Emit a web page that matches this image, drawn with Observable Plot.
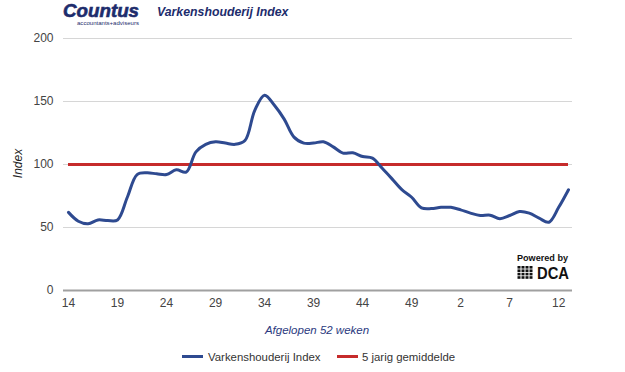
<!DOCTYPE html>
<html><head><meta charset="utf-8">
<script src="https://cdn.jsdelivr.net/npm/d3@7"></script>
<script src="https://cdn.jsdelivr.net/npm/@observablehq/plot@0.6"></script>
<style>
body{margin:0;background:#fff;font-family:"Liberation Sans",Arial,sans-serif;}
#wrap{position:relative;width:625px;height:372px;overflow:hidden;background:#fff;}
#chart{position:absolute;left:0;top:0;}
#overlay{position:absolute;left:0;top:0;pointer-events:none;}
</style></head><body>
<div id="wrap"><div id="chart"></div>
<svg id="overlay" width="625" height="372" font-family="Liberation Sans, Arial, sans-serif">
  <text x="63" y="16.5" font-size="18" font-weight="bold" font-style="italic" fill="#1d2c6c" stroke="#1d2c6c" stroke-width="0.6" textLength="76" lengthAdjust="spacingAndGlyphs">Countus</text>
  <text x="77" y="25" font-size="5.5" fill="#1d2c6c" textLength="62" lengthAdjust="spacingAndGlyphs">accountants+adviseurs</text>
  <text x="157" y="15.5" font-size="12.3" font-weight="bold" font-style="italic" fill="#1d2c6c">Varkenshouderij Index</text>
  <text transform="translate(21.5,163.5) rotate(-90)" text-anchor="middle" font-size="12" font-style="italic" fill="#222">Index</text>
  <text x="317" y="334" text-anchor="middle" font-size="11.5" font-style="italic" fill="#2b3a80">Afgelopen 52 weken</text>
  <line x1="182" x2="203" y1="356.5" y2="356.5" stroke="#2e4a90" stroke-width="3"/>
  <text x="208" y="361" font-size="11.4" fill="#333">Varkenshouderij Index</text>
  <line x1="337" x2="358" y1="356.5" y2="356.5" stroke="#c62b2b" stroke-width="3"/>
  <text x="362" y="361" font-size="11.4" fill="#333">5 jarig gemiddelde</text>
  <text x="517" y="260.5" font-size="9" font-weight="bold" fill="#111" textLength="51" lengthAdjust="spacingAndGlyphs">Powered by</text>
  <text x="537" y="278.5" font-size="16.5" font-weight="bold" fill="#111" textLength="32" lengthAdjust="spacingAndGlyphs">DCA</text>
  <g id="icon" fill="#111"></g>
</svg>
</div>
<script>
const weeks = [14,15,16,17,18,19,20,21,22,23,24,25,26,27,28,29,30,31,32,33,34,35,36,37,38,39,40,41,42,43,44,45,46,47,48,49,50,51,52,1,2,3,4,5,6,7,8,9,10,11,12,13];
const indexValues = [62,55,53,56,55.5,56,74,92,93.4,92.6,92,95.8,94,110,116,118,117,116,119,143,155,147,136,121.7,117,117,118,114,109,109.3,106.3,105,97,88.6,80,74,65.6,65,66,66,64,61.4,59.5,59.8,57,59.5,62.7,61.4,57.4,54.2,66,80];
const averageValue = 100;
const tickWeeks = [14,19,24,29,34,39,44,49,2,7,12];
const yTicks = [0,50,100,150,200];

const data = weeks.map((w, i) => ({i, week: w, value: indexValues[i]}));
const tickPositions = tickWeeks.map(w => weeks.indexOf(w));

const chart = Plot.plot({
  width: 625, height: 372,
  marginTop: 38, marginBottom: 82, marginLeft: 68, marginRight: 57,
  style: {fontFamily: "Liberation Sans, Arial, sans-serif", fontSize: "12px", color: "#444", background: "transparent"},
  x: {domain: [0, weeks.length - 1], ticks: tickPositions, tickFormat: i => weeks[i], tickSize: 0, tickPadding: 8, label: null},
  y: {domain: [0, 200], ticks: yTicks, tickSize: 0, tickPadding: 15, label: null},
  marks: [
    Plot.ruleY(yTicks.filter(d => d > 0), {stroke: "#d6d6d6", strokeWidth: 1, insetLeft: -5, insetRight: -4}),
    Plot.ruleY([0], {stroke: "#a0a0a0", strokeWidth: 2, insetLeft: -5, insetRight: -4}),
    Plot.ruleY([averageValue], {stroke: "#c62b2b", strokeWidth: 3}),
    Plot.line(data, {x: "i", y: "value", stroke: "#2e4a90", strokeWidth: 3, curve: "catmull-rom"})
  ]
});
document.getElementById("chart").appendChild(chart);

// DCA grid icon (decoration)
const icon = document.getElementById("icon");
for (let r = 0; r < 4; r++) for (let c = 0; c < 4; c++) {
  const rect = document.createElementNS("http://www.w3.org/2000/svg", "rect");
  rect.setAttribute("x", 517.5 + c * 4);
  rect.setAttribute("y", 266 + r * 3.4);
  rect.setAttribute("width", 3);
  rect.setAttribute("height", 2.6);
  icon.appendChild(rect);
}
</script>
</body></html>
